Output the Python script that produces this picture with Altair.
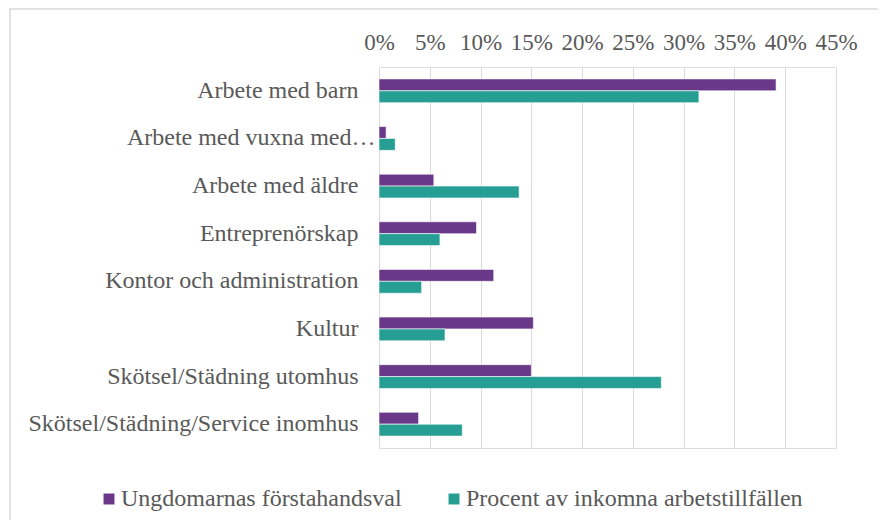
import altair as alt
import pandas as pd

categories = [
    "Arbete med barn",
    "Arbete med vuxna med…",
    "Arbete med äldre",
    "Entreprenörskap",
    "Kontor och administration",
    "Kultur",
    "Skötsel/Städning utomhus",
    "Skötsel/Städning/Service inomhus",
]
series_names = ["Ungdomarnas förstahandsval", "Procent av inkomna arbetstillfällen"]
val_ungdom = [39.1, 0.7, 5.4, 9.6, 11.3, 15.2, 15.0, 3.9]
val_procent = [31.5, 1.6, 13.8, 6.0, 4.2, 6.5, 27.8, 8.2]
x_ticks = [0, 5, 10, 15, 20, 25, 30, 35, 40, 45]
colors = ["#6A3888", "#269E94"]

rows = []
for c, a, b in zip(categories, val_ungdom, val_procent):
    rows.append({"kategori": c, "serie": series_names[0], "varde": a / 100})
    rows.append({"kategori": c, "serie": series_names[1], "varde": b / 100})
df = pd.DataFrame(rows)

FONT = "Liberation Serif"
TXT = "#595959"

bars = alt.Chart(df).mark_bar(stroke="white", strokeWidth=0.6).encode(
    y=alt.Y("kategori:N", sort=categories, title=None,
            scale=alt.Scale(paddingInner=0.5, paddingOuter=0.25),
            axis=alt.Axis(domain=False, ticks=False,
                          labelPadding={"condition": {"test": "datum.value == 'Arbete med vuxna med…'",
                                                      "value": 4},
                                        "value": 21},
                          labelLimit=0, labelFontSize=24, labelColor=TXT,
                          labelFont=FONT)),
    yOffset=alt.YOffset("serie:N", sort=series_names),
    x=alt.X("varde:Q", title=None,
            scale=alt.Scale(domain=[0, 0.45], nice=False),
            axis=alt.Axis(orient="top", values=[t / 100 for t in x_ticks],
                          format=".0%", grid=True, gridColor="#d9d9d9",
                          gridWidth=1, domain=False, ticks=False,
                          labelPadding=13, labelFontSize=23, labelColor=TXT,
                          labelFont=FONT, labelFlush=False)),
    color=alt.Color("serie:N", sort=series_names,
                    scale=alt.Scale(domain=series_names, range=colors),
                    legend=alt.Legend(title=None, orient="none", direction="horizontal",
                                      legendX=-282, legendY=420,
                                      symbolType="square", symbolSize=120,
                                      symbolStrokeWidth=0,
                                      labelFontSize=24, labelColor=TXT,
                                      labelFont=FONT, labelOffset=0,
                                      columnPadding=40, labelLimit=0)),
)

border = alt.Chart(alt.Data(values=[{"a": 1}])).mark_rect(
    filled=False, stroke="#d9d9d9", strokeWidth=1.5
).encode(
    x=alt.value(-369), x2=alt.value(515),
    y=alt.value(-58), y2=alt.value(470),
)

chart = alt.layer(border, bars).properties(
    width=457, height=381,
    autosize=alt.AutoSizeParams(type="none"),
    padding={"left": 371, "top": 59, "right": 42, "bottom": 72},
).configure_view(stroke=None).configure(background="white")

chart.save("out.html", embed_options={"renderer": "svg", "actions": False})
